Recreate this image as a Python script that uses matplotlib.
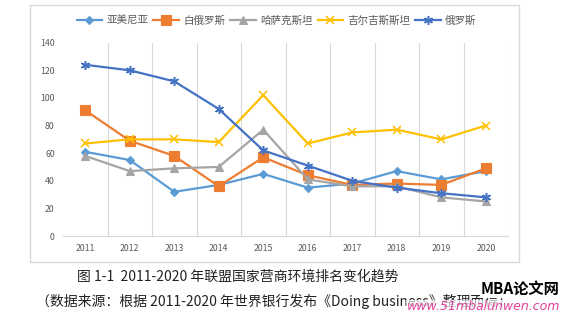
import numpy as np
import matplotlib
matplotlib.use('Agg')
import matplotlib.pyplot as plt
from matplotlib.patches import Rectangle

plt.rcParams['font.family'] = ['Noto Sans CJK SC', 'DejaVu Sans']

# dados
anos = ['2011', '2012', '2013', '2014', '2015', '2016', '2017', '2018', '2019', '2020']
armenia = [61, 55, 32, 37, 45, 35, 38, 47, 41, 47]
belarus = [91, 69, 58, 36, 57, 44, 37, 38, 37, 49]
cazaquistao = [58, 47, 49, 50, 77, 41, 36, 36, 28, 25]
quirguistao = [67, 70, 70, 68, 102, 67, 75, 77, 70, 80]
russia = [124, 120, 112, 92, 62, 51, 40, 35, 31, 28]

nomes = ['亚美尼亚', '白俄罗斯', '哈萨克斯坦', '吉尔吉斯斯坦', '俄罗斯']
cores = ['#5B9BD5', '#ED7D31', '#A5A5A5', '#FFC000', '#4472C4']
marcadores = ['D', 's', '^', 'x', (6, 2, 0)]
tamanhos = [4.5, 6.5, 5.5, 6, 6.5]

fig = plt.figure(figsize=(5.64, 3.23), dpi=100)

# moldura do gráfico (estilo Excel)
fig.patches.append(Rectangle((30/564, 1-262/323), (519-30)/564, (262-5)/323,
                             transform=fig.transFigure, fill=False,
                             edgecolor='#d9d9d9', linewidth=1.0))

ax = fig.add_axes([63/564, 1-236/323, (508-63)/564, (236-42.7)/323])
x = np.arange(len(anos))

series = [armenia, belarus, cazaquistao, quirguistao, russia]
for s, nome, c, m, ms in zip(series, nomes, cores, marcadores, tamanhos):
	ax.plot(x, s, color=c, linewidth=1.6, marker=m, markersize=ms,
	        markeredgewidth=1.1 if m == 'x' or isinstance(m, tuple) else 0.8,
	        label=nome, zorder=3)

ax.set_xlim(-0.5, len(anos)-0.5)
ax.set_ylim(0, 140)
ax.set_yticks(np.arange(0, 141, 20))
ax.set_xticks(x)
ax.set_xticklabels(anos)
for g in np.arange(0.5, len(anos), 1.0):
	ax.axvline(g, color='#d9d9d9', linewidth=0.8, zorder=1)

for lado in ['top', 'right', 'left']:
	ax.spines[lado].set_visible(False)
ax.spines['bottom'].set_color('#d9d9d9')
ax.tick_params(axis='both', length=0, labelsize=6.3, colors='#595959', pad=6)

leg = ax.legend(loc='center', bbox_to_anchor=(0.48, 1.115), ncol=5, frameon=False,
                fontsize=7.6, handlelength=2.4, columnspacing=0.5, handletextpad=0.4)
for t in leg.get_texts():
	t.set_color('#595959')

# legenda da figura
fig.text(0.422, 1-277/323, '图 1-1  2011-2020 年联盟国家营商环境排名变化趋势',
         ha='center', va='center', fontsize=10, color='#222222')
fig.text(36/564, 1-301/323,
         '（数据来源：根据 2011-2020 年世界银行发布《Doing business》整理而得）',
         ha='left', va='center', fontsize=10, color='#222222')

# marca d'água
fig.text(560/564, 1-289/323, 'MBA论文网', ha='right', va='center', fontsize=11,
         fontweight='bold', style='italic', color='black',
         bbox=dict(facecolor='white', edgecolor='none', pad=0.5))
fig.text(560/564, 1-307/323, 'www.51mbalunwen.com', ha='right', va='center',
         fontsize=9, style='italic', color='#e0409a', family='DejaVu Sans',
         bbox=dict(facecolor='white', edgecolor='none', pad=0.3, alpha=0.7))

plt.savefig('out.png', dpi=100)
